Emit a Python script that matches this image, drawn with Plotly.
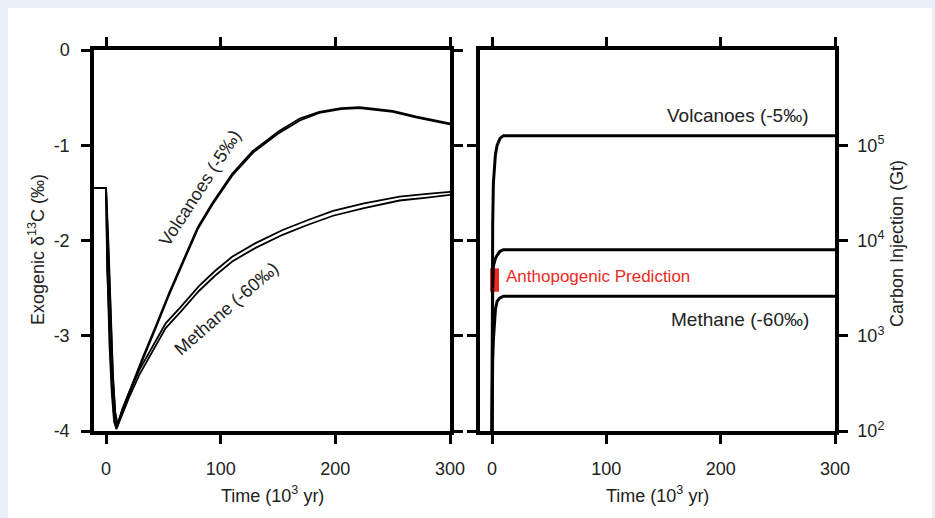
import plotly.graph_objects as go

# ---- Left panel: exogenic d13C (permil) vs time (10^3 yr) ----
volc_a_t = [-10, 0, 2, 4, 6, 8, 10, 14, 23, 32, 44, 55, 72, 80, 93, 110, 128, 151, 169, 186, 205, 221, 250, 271, 300]
volc_a_v = [-1.45, -1.45, -2.0, -2.8, -3.4, -3.8, -3.93, -3.78, -3.5, -3.23, -2.88, -2.55, -2.08, -1.86, -1.6, -1.3, -1.06, -0.85, -0.72, -0.65, -0.61, -0.6, -0.64, -0.7, -0.77]
volc_b_t = [-10, 0, 1, 3, 5, 7, 9, 14, 23, 32, 44, 55, 72, 80, 93, 110, 128, 151, 169, 186, 205, 221, 250, 271, 300]
volc_b_v = [-1.45, -1.45, -2.3, -3.0, -3.5, -3.85, -3.97, -3.8, -3.52, -3.25, -2.9, -2.57, -2.1, -1.88, -1.62, -1.32, -1.08, -0.87, -0.74, -0.66, -0.62, -0.61, -0.65, -0.71, -0.78]
meth_a_t = [-10, 0, 2, 4, 6, 8, 10, 14, 20, 29, 40, 52, 65, 81, 95, 110, 130, 154, 175, 198, 225, 256, 280, 300]
meth_a_v = [-1.45, -1.45, -2.1, -2.9, -3.45, -3.82, -3.95, -3.78, -3.6, -3.36, -3.12, -2.87, -2.7, -2.48, -2.32, -2.17, -2.03, -1.89, -1.79, -1.69, -1.61, -1.54, -1.51, -1.49]
meth_b_t = [-10, 0, 1, 3, 5, 7, 9, 14, 20, 29, 40, 52, 65, 81, 95, 110, 130, 154, 175, 198, 225, 256, 280, 300]
meth_b_v = [-1.45, -1.45, -2.2, -3.1, -3.6, -3.9, -3.98, -3.82, -3.65, -3.41, -3.17, -2.92, -2.75, -2.53, -2.37, -2.22, -2.08, -1.94, -1.84, -1.74, -1.66, -1.58, -1.55, -1.52]

# ---- Right panel: cumulative carbon injection (Gt) ----
inj_t = [0, 0.2, 0.6, 1.2, 3, 4.5, 7, 10, 300]
inj_volc = [100, 1500, 15000, 40000, 80000, 100000, 118000, 126000, 126000]
inj_anth = [100, 800, 3000, 5400, 6500, 7000, 7700, 8000, 8000]
inj_meth = [100, 250, 550, 900, 1900, 2300, 2500, 2600, 2600]
pred_t = [-1.7, 6.1]
pred_gt = [2900, 5100]

x_ticks = [0, 100, 200, 300]
y_ticks_left = [0, -1, -2, -3, -4]
y_ticks_right_exp = [2, 3, 4, 5]

PLOT_BG = "#e5eff0"
FONT = "Liberation Sans, Arial, sans-serif"
TXT = "#222222"
W, H = 935, 518


def px(x):
    return x / W


def py(y):
    return 1 - y / H


fig = go.Figure()

for t, v in [(volc_a_t, volc_a_v), (volc_b_t, volc_b_v), (meth_a_t, meth_a_v), (meth_b_t, meth_b_v)]:
    fig.add_trace(go.Scatter(x=t, y=v, mode="lines", line=dict(color="black", width=1.8),
                             xaxis="x", yaxis="y", showlegend=False, hoverinfo="skip"))

# red prediction box
fig.add_trace(go.Scatter(x=[pred_t[0], pred_t[1], pred_t[1], pred_t[0], pred_t[0]],
                         y=[pred_gt[0], pred_gt[0], pred_gt[1], pred_gt[1], pred_gt[0]],
                         mode="lines", fill="toself", fillcolor="#f0281e",
                         line=dict(color="#f0281e", width=0), xaxis="x2", yaxis="y2",
                         showlegend=False, hoverinfo="skip"))
for vals in [inj_volc, inj_anth, inj_meth]:
    fig.add_trace(go.Scatter(x=inj_t, y=vals, mode="lines", line=dict(color="black", width=3),
                             xaxis="x2", yaxis="y2", showlegend=False, hoverinfo="skip"))

axis_common = dict(showline=True, linecolor="black", linewidth=3.5, mirror="ticks",
                   ticks="outside", ticklen=9, tickwidth=2.5, tickcolor="black",
                   showgrid=False, zeroline=False, automargin=False,
                   tickfont=dict(family=FONT, size=18, color=TXT))


def ann(text, x, y, size=18, color=TXT, angle=0, xanchor="center"):
    return dict(text=text, x=px(x), y=py(y), xref="paper", yref="paper",
                xanchor=xanchor, yanchor="middle", textangle=angle, showarrow=False,
                font=dict(family=FONT, size=size, color=color))


fig.update_layout(
    width=W, height=H,
    margin=dict(l=0, r=0, t=0, b=0, pad=0, autoexpand=False),
    paper_bgcolor="#e9eff8",
    plot_bgcolor=PLOT_BG,
    font=dict(family=FONT, color=TXT),
    xaxis=dict(domain=[px(94), px(450)], range=[-10.5, 300], tickvals=x_ticks,
               ticklabelstandoff=10, anchor="y", **axis_common),
    yaxis=dict(domain=[py(431), py(50)], range=[-4, 0], tickvals=y_ticks_left,
               ticktext=[str(v) for v in y_ticks_left], ticklabelstandoff=8,
               anchor="x", **axis_common),
    xaxis2=dict(domain=[px(480), px(835)], range=[-10.5, 300], tickvals=x_ticks,
                ticklabelstandoff=10, anchor="y2", **axis_common),
    yaxis2=dict(domain=[py(431), py(50)], type="log", range=[2, 6],
                tickvals=[10 ** e for e in y_ticks_right_exp],
                ticktext=["10<sup>%d</sup>" % e for e in y_ticks_right_exp],
                side="right", anchor="x2", ticklabelstandoff=6, **axis_common),
    shapes=[dict(type="rect", xref="paper", yref="paper", x0=px(8), x1=px(932),
                 y0=0, y1=py(8), fillcolor="white", line=dict(width=0), layer="below")],
    annotations=[
        ann("Time (10<sup>3</sup> yr)", 272, 494),
        ann("Time (10<sup>3</sup> yr)", 657, 494),
        ann("Exogenic δ<sup>13</sup>C (‰)", 37, 250, angle=-90),
        ann("Carbon Injection (Gt)", 897, 244, angle=-90),
        ann("Volcanoes (-5‰)", 200, 188, angle=-57),
        ann("Methane (-60‰)", 226, 309, angle=-41),
        ann("Volcanoes (-5‰)", 811, 115, size=19, xanchor="right"),
        ann("Methane (-60‰)", 811, 319, size=19, xanchor="right"),
        ann("Anthopogenic Prediction", 504, 276, size=17, color="#ee2a24", xanchor="left"),
    ],
)

fig.write_html("out.html")
